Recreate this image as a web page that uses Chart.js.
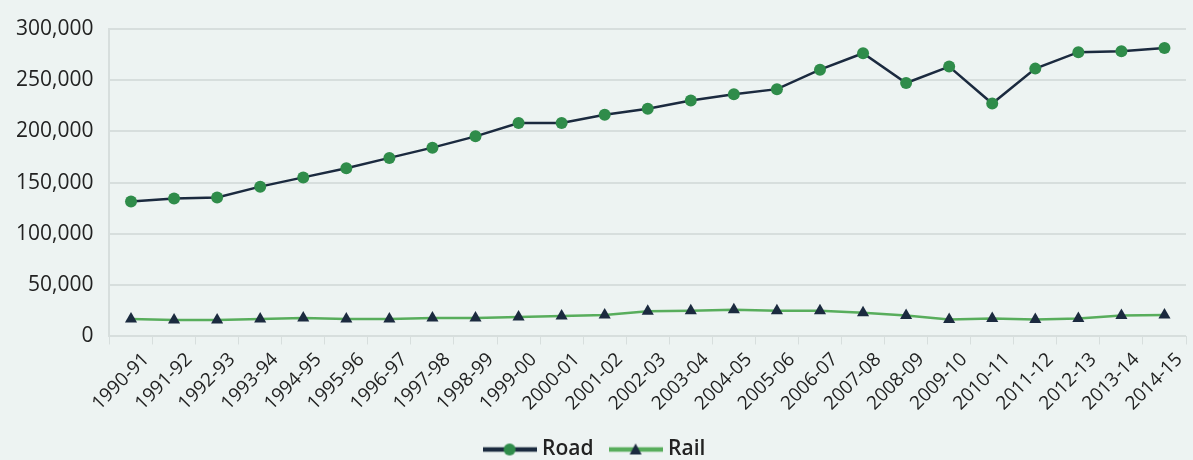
<!DOCTYPE html>
<html>
<head>
<meta charset="utf-8">
<script src="https://cdn.jsdelivr.net/npm/chart.js@4.4.1/dist/chart.umd.min.js"></script>
<style>
  html, body { margin: 0; padding: 0; background: #edf3f2; }
  #wrap { width: 1193px; height: 460px; position: relative; }
</style>
</head>
<body>
<div id="wrap"><canvas id="chart"></canvas></div>
<script>
// Financial years on the horizontal axis
const years = [
  '1990-91','1991-92','1992-93','1993-94','1994-95','1995-96','1996-97','1997-98',
  '1998-99','1999-00','2000-01','2001-02','2002-03','2003-04','2004-05','2005-06',
  '2006-07','2007-08','2008-09','2009-10','2010-11','2011-12','2012-13','2013-14','2014-15'
];

// Freight carried by road
const road = [
  131500, 134500, 135500, 146000, 155000, 164000, 174000, 184000,
  195000, 208000, 208000, 216000, 222000, 230000, 236000, 241000,
  260000, 276000, 247000, 263000, 227000, 261000, 277000, 278000, 281000
];

// Freight carried by rail
const rail = [
  17000, 16000, 16000, 17000, 18000, 17000, 17000, 18000,
  18000, 19000, 20000, 21000, 24500, 25000, 26000, 25000,
  25000, 23000, 20500, 16500, 17500, 16500, 17500, 20500, 21000
];

// Value-axis ticks
const yTicks = [0, 50000, 100000, 150000, 200000, 250000, 300000];

const navy = '#1b2a3f';
const green = '#2f8c4a';
const lightGreen = '#58ad5c';
const gridGray = '#d7dedd';
const textColor = '#222';
const fontFamily = '"Open Sans", sans-serif';

// Legend swatch: short line segment with the series marker in the middle
function legendIcon(lineColor, marker, markerColor) {
  const c = document.createElement('canvas');
  c.width = 54; c.height = 16;
  const g = c.getContext('2d');
  g.strokeStyle = lineColor;
  g.lineWidth = 4.5;
  g.beginPath(); g.moveTo(0, 8); g.lineTo(54, 8); g.stroke();
  g.fillStyle = markerColor;
  g.beginPath();
  if (marker === 'circle') {
    g.arc(27, 8, 6, 0, Math.PI * 2);
  } else {
    g.moveTo(27, 2); g.lineTo(33, 13); g.lineTo(21, 13); g.closePath();
  }
  g.fill();
  return c;
}

const icons = [
  legendIcon(navy, 'circle', green),
  legendIcon(lightGreen, 'triangle', navy)
];

new Chart(document.getElementById('chart'), {
  type: 'line',
  data: {
    labels: years,
    datasets: [
      {
        label: 'Road',
        data: road,
        borderColor: navy,
        borderWidth: 2.5,
        backgroundColor: green,
        pointStyle: 'circle',
        pointRadius: 6,
        pointBorderWidth: 0,
        pointBackgroundColor: green,
        tension: 0
      },
      {
        label: 'Rail',
        data: rail,
        borderColor: lightGreen,
        borderWidth: 2.5,
        backgroundColor: navy,
        pointStyle: 'triangle',
        pointRadius: 7,
        pointBorderWidth: 0,
        pointBackgroundColor: navy,
        tension: 0
      }
    ]
  },
  options: {
    responsive: true,
    maintainAspectRatio: false,
    animation: false,
    layout: { padding: { top: 12, left: 0, right: 0, bottom: -10 } },
    plugins: {
      tooltip: { enabled: false },
      legend: {
        position: 'bottom',
        labels: {
          usePointStyle: true,
          pointStyleWidth: 44,
          padding: 20,
          color: textColor,
          font: { family: fontFamily, size: 21, weight: '600' },
          generateLabels: (chart) => chart.data.datasets.map((ds, i) => ({
            text: ds.label,
            pointStyle: icons[i],
            fillStyle: 'transparent',
            strokeStyle: 'transparent',
            lineWidth: 0,
            fontColor: textColor,
            datasetIndex: i,
            hidden: false
          }))
        }
      }
    },
    scales: {
      x: {
        offset: true,
        grid: {
          offset: true,
          drawOnChartArea: false,
          drawTicks: true,
          tickLength: 8,
          color: gridGray
        },
        border: { display: true, color: gridGray },
        ticks: {
          color: textColor,
          minRotation: 45,
          maxRotation: 45,
          autoSkip: false,
          padding: 4,
          labelOffset: 15,
          font: { family: fontFamily, size: 19 }
        }
      },
      y: {
        min: 0,
        max: 300000,
        afterBuildTicks: (axis) => { axis.ticks = yTicks.map(v => ({ value: v })); },
        grid: { color: gridGray, lineWidth: 2, drawTicks: false },
        border: { display: true, color: gridGray, width: 2 },
        ticks: {
          color: textColor,
          padding: 16,
          font: { family: fontFamily, size: 21, weight: '500' },
          callback: (v) => Number(v).toLocaleString('en-US')
        }
      }
    }
  }
});
</script>
</body>
</html>
